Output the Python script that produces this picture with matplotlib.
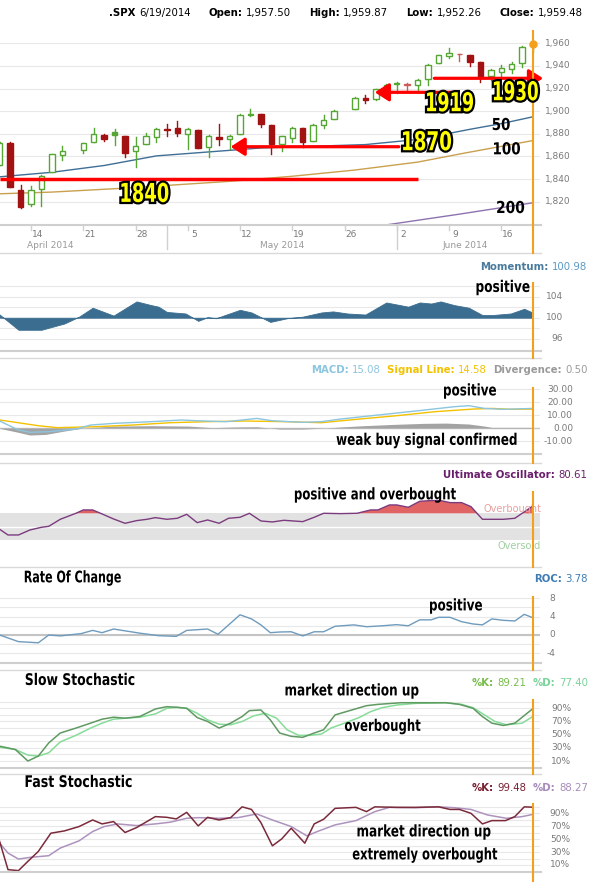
import numpy as np
import matplotlib
matplotlib.use('Agg')
import matplotlib.pyplot as plt
import matplotlib.patheffects as pe
from matplotlib.lines import Line2D
from matplotlib.patches import Rectangle, PathPatch
from matplotlib.offsetbox import TextArea, HPacker, AnnotationBbox
from matplotlib.textpath import TextPath
from matplotlib.font_manager import FontProperties
from matplotlib.transforms import Affine2D

W, H = 590, 882

# ---- daily candles (S&P 500) ----
dates = ['2014-04-09', '2014-04-10', '2014-04-11', '2014-04-14', '2014-04-15', '2014-04-16', '2014-04-17',
         '2014-04-21', '2014-04-22', '2014-04-23', '2014-04-24', '2014-04-25', '2014-04-28', '2014-04-29',
         '2014-04-30', '2014-05-01', '2014-05-02', '2014-05-05', '2014-05-06', '2014-05-07', '2014-05-08',
         '2014-05-09', '2014-05-12', '2014-05-13', '2014-05-14', '2014-05-15', '2014-05-16', '2014-05-19',
         '2014-05-20', '2014-05-21', '2014-05-22', '2014-05-23', '2014-05-27', '2014-05-28', '2014-05-29',
         '2014-05-30', '2014-06-02', '2014-06-03', '2014-06-04', '2014-06-05', '2014-06-06', '2014-06-09',
         '2014-06-10', '2014-06-11', '2014-06-12', '2014-06-13', '2014-06-16', '2014-06-17', '2014-06-18',
         '2014-06-19']
opens = [1852.6, 1872.3, 1830.7, 1818.2, 1831.5, 1846.0, 1861.7, 1865.8, 1872.6, 1879.3, 1882.0, 1877.7,
         1865.0, 1870.8, 1877.1, 1884.4, 1885.3, 1879.5, 1883.7, 1868.5, 1877.4, 1875.3, 1880.0, 1896.8,
         1897.1, 1888.2, 1871.2, 1876.7, 1884.9, 1873.3, 1888.2, 1893.3, 1902.0, 1911.8, 1910.6, 1920.3,
         1923.9, 1923.1, 1923.1, 1928.5, 1942.4, 1949.0, 1950.3, 1949.4, 1943.4, 1930.8, 1934.8, 1937.2,
         1942.7, 1957.5]
highs = [1872.4, 1872.5, 1835.1, 1834.2, 1844.0, 1862.3, 1869.6, 1871.9, 1884.9, 1879.8, 1884.1, 1877.7,
         1877.0, 1880.6, 1885.2, 1888.6, 1891.3, 1885.5, 1883.7, 1878.8, 1889.1, 1878.6, 1897.1, 1902.2,
         1897.1, 1888.2, 1878.3, 1886.0, 1884.9, 1888.8, 1896.3, 1901.3, 1912.3, 1914.5, 1920.0, 1924.0,
         1925.9, 1925.1, 1928.6, 1941.7, 1949.4, 1955.6, 1950.9, 1949.4, 1943.4, 1937.3, 1941.2, 1943.7,
         1957.7, 1959.9]
lows = [1852.4, 1833.0, 1814.4, 1815.8, 1816.3, 1846.0, 1856.7, 1863.2, 1872.6, 1873.9, 1870.2, 1859.7,
        1850.6, 1870.8, 1872.7, 1878.0, 1878.5, 1866.8, 1867.7, 1859.8, 1870.1, 1867.0, 1880.0, 1896.1,
        1885.8, 1862.4, 1864.8, 1872.4, 1868.1, 1873.3, 1885.4, 1893.3, 1902.0, 1907.3, 1909.8, 1915.1,
        1916.0, 1918.8, 1918.6, 1922.9, 1942.4, 1947.2, 1944.6, 1940.1, 1925.8, 1927.7, 1930.9, 1933.6,
        1939.3, 1952.3]
closes = [1872.2, 1833.1, 1815.7, 1830.6, 1843.0, 1862.3, 1864.9, 1871.9, 1879.6, 1875.4, 1878.6, 1863.4,
          1869.4, 1878.3, 1884.0, 1883.7, 1881.1, 1884.7, 1867.7, 1878.2, 1875.6, 1878.5, 1896.7, 1897.5,
          1888.5, 1870.9, 1877.9, 1885.1, 1872.8, 1888.0, 1892.5, 1900.5, 1911.9, 1909.8, 1920.0, 1923.6,
          1925.0, 1924.2, 1927.9, 1940.5, 1949.4, 1951.3, 1950.8, 1943.9, 1930.1, 1936.2, 1937.8, 1942.0,
          1957.0, 1959.5]

# moving averages (weekday index from 14 Apr 2014, value)
ma50_x = [-3, 2, 7, 12, 17, 22, 27, 32, 37, 42, 45, 48]
ma50_v = [1842, 1846, 1852, 1860.5, 1864, 1867.5, 1869, 1870.5, 1875, 1884, 1889, 1895]
ma100_x = [-3, 2, 9, 19, 25, 31, 37, 41.5, 48]
ma100_v = [1827, 1828.5, 1832, 1838, 1842.5, 1848, 1855, 1863, 1874]
ma200_x = [34, 41, 48]
ma200_v = [1799.5, 1809, 1819]

support_levels = [1840, 1870, 1919, 1930]

week_dates = ['2014-04-14', '2014-04-21', '2014-04-28', '2014-05-05', '2014-05-12', '2014-05-19',
              '2014-05-26', '2014-06-02', '2014-06-09', '2014-06-16']
week_labels = ['14', '21', '28', '5', '12', '19', '26', '2', '9', '16']
month_labels = ['April 2014', 'May 2014', 'June 2014']
month_label_x = [1.8, 24.0, 41.5]

# ---- indicators ----
mom_x = [-3.0, -1.2, 1.0, 2.1, 3.2, 4.6, 5.9, 7.9, 10.1, 11.5, 12.2, 13.0, 14.8, 16.0, 16.9, 17.7, 20.0, 21.1,
         22.9, 24.5, 26.0, 27.8, 28.9, 30.3, 32.0, 34.0, 36.1, 37.2, 38.3, 39.2, 40.5, 41.9, 43.2, 44.1, 45.9,
         47.2, 48.0]
mom_v = [100.6, 97.7, 97.7, 98.3, 98.9, 100.2, 101.9, 100.4, 103.1, 102.4, 102.1, 101.1, 100.8, 99.4, 100.1,
         99.9, 101.5, 101.0, 99.2, 99.9, 100.2, 101.0, 101.2, 100.8, 100.6, 102.9, 102.1, 102.9, 102.7, 103.1,
         102.4, 101.9, 100.5, 100.5, 100.8, 101.7, 100.98]

macd_x = [-3.0, -1.2, -0.1, 1.7, 4.3, 5.7, 7.9, 11.5, 14.4, 15.9, 18.7, 21.6, 23.1, 26.0, 27.8, 29.6, 33.2,
          36.8, 40.5, 41.9, 43.4, 45.2, 48.0]
macd_v = [5.4, -1.5, -3.3, -2.8, -0.8, 2.3, 3.6, 4.9, 6.2, 5.6, 4.9, 7.4, 5.6, 4.4, 4.9, 6.9, 10.0, 13.1, 16.4,
          17.2, 15.1, 14.4, 15.08]
sig_x = [-3.0, 0.7, 2.5, 6.1, 9.7, 13.3, 16.9, 20.6, 24.2, 27.8, 31.4, 35.0, 38.7, 42.3, 44.1, 45.9, 48.0]
sig_v = [6.2, 1.8, 0.3, 1.0, 2.3, 4.1, 4.9, 5.4, 4.9, 4.1, 6.9, 9.5, 12.6, 14.6, 15.1, 14.4, 14.58]
div_x = [-3.0, -1.5, -0.1, 1.4, 3.2, 5.0, 7.9, 11.5, 15.1, 17.3, 19.5, 21.6, 23.8, 26.0, 28.2, 29.6, 31.8,
         34.7, 37.6, 39.7, 41.9, 43.4, 44.1, 48.0]
div_v = [-0.3, -2.8, -5.4, -4.9, -2.3, 0.0, 1.5, 1.8, 1.5, 0.3, 0.8, 1.0, -0.8, -0.8, 0.0, 0.8, 1.8, 2.8, 3.6,
         3.8, 3.1, 1.5, 0.5, 0.5]

uo_x = [-3.0, -2.2, -1.2, -0.1, 1.0, 1.7, 2.8, 4.3, 5.0, 5.9, 6.8, 7.9, 9.0, 10.1, 11.1, 11.9, 13.0, 14.0,
        14.9, 15.9, 16.9, 18.0, 18.9, 20.0, 20.9, 22.0, 23.1, 24.2, 26.0, 27.1, 28.0, 29.6, 31.2, 32.5, 33.2,
        34.3, 35.0, 36.1, 37.2, 38.3, 39.2, 40.1, 41.2, 42.1, 43.2, 44.1, 45.2, 46.3, 48.0]
uo_v = [46, 37.5, 37.5, 45, 49, 50.5, 61, 70, 75, 75, 69, 61.5, 55, 59, 61, 63.5, 61, 62.5, 68.5, 56, 60, 55,
        62.5, 64, 70, 58.5, 57, 59.5, 57.5, 64, 70, 69.5, 70, 75, 75, 82.5, 82.5, 79, 88, 89, 89, 86, 86, 80,
        61, 61, 61, 62.5, 80.61]

roc_x = [-3.0, -1.2, 0.7, 1.7, 2.8, 4.8, 5.9, 6.8, 7.9, 9.0, 10.4, 12.2, 13.9, 14.9, 16.9, 17.9, 20.0, 21.1,
         22.0, 22.9, 23.8, 24.9, 26.0, 27.1, 28.0, 29.1, 30.9, 32.1, 33.6, 35.0, 36.1, 37.2, 38.3, 39.0, 40.1,
         41.2, 42.3, 43.2, 44.1, 45.2, 46.3, 47.2, 48.0]
roc_v = [0.0, -1.45, -1.7, 0.0, -0.2, 0.3, 1.0, 0.5, 1.3, 0.9, 0.4, -0.15, -0.3, 1.0, 1.3, 0.15, 4.4, 3.5, 2.2,
         0.5, 0.65, 0.7, -0.2, 0.7, 0.7, 1.9, 2.2, 1.8, 2.0, 2.25, 2.0, 3.3, 3.3, 3.85, 3.85, 2.9, 2.4, 2.2,
         3.5, 3.2, 3.05, 4.5, 3.78]

sk_x = [-3.0, -1.5, -0.3, 0.7, 1.7, 2.8, 4.3, 5.7, 6.8, 7.9, 9.0, 10.4, 11.9, 13.0, 14.0, 14.9, 15.9, 16.9,
        18.0, 19.1, 20.2, 20.9, 22.0, 22.9, 23.8, 24.9, 26.0, 27.1, 28.0, 29.1, 30.7, 32.1, 33.2, 35.4, 36.8,
        38.7, 39.7, 41.0, 42.3, 43.2, 44.1, 45.2, 46.3, 48.0]
sk_v = [32.5, 27.5, 10, 17.5, 37.5, 52.5, 60, 67.5, 73.5, 76.5, 75, 77.5, 89, 92.5, 91.5, 90, 76, 70, 60, 67.5,
        77.5, 86.5, 87.5, 72.5, 52.5, 47.5, 46, 52.5, 57.5, 80, 87.5, 94, 96, 98.5, 98.5, 98.5, 98.5, 96, 90,
        77.5, 67.5, 64, 67.5, 89.21]
sd_x = [-3.0, -1.5, -0.3, 0.7, 1.7, 2.8, 4.3, 5.7, 6.8, 7.9, 9.0, 10.4, 11.9, 13.0, 14.0, 14.9, 15.9, 16.9,
        18.0, 19.1, 20.2, 21.3, 22.4, 23.5, 24.5, 25.6, 26.7, 27.8, 28.7, 30.0, 31.4, 32.5, 33.6, 35.0, 36.8,
        39.7, 41.2, 42.3, 43.4, 44.4, 45.5, 47.0, 48.0]
sd_v = [31, 27.5, 19, 17.5, 22.5, 39, 49, 60, 67.5, 73.5, 75, 76.5, 81.5, 90, 91.5, 90, 82.5, 72.5, 66, 65, 70,
        78.5, 82.5, 75, 57.5, 49, 49, 51, 60, 67.5, 76, 85, 91, 95, 97.5, 98.5, 96, 91, 80, 70, 65, 67.5, 77.4]

fk_x = [-3.0, -2.2, -1.2, -0.3, 0.7, 1.9, 3.2, 4.6, 5.9, 6.8, 7.9, 9.0, 10.1, 11.9, 13.0, 13.9, 14.9, 16.0,
        16.9, 18.0, 19.1, 20.2, 21.1, 22.0, 23.1, 24.0, 24.9, 26.2, 27.1, 28.0, 29.1, 31.1, 32.1, 32.9, 35.0,
        36.8, 39.0, 40.1, 41.0, 42.1, 43.2, 44.1, 45.4, 46.3, 47.2, 48.0]
fk_v = [46.4, 2.8, 1.3, 15.6, 31, 59.2, 62.8, 69.5, 79.7, 73.6, 77.2, 60.3, 67.9, 84.9, 83.8, 81.3, 91.5, 70.5,
        83.8, 79.7, 83.3, 100, 96, 75.6, 39.7, 50.5, 66.9, 43.8, 73.6, 80.8, 97.7, 99.2, 92.6, 100, 99.2, 99.2,
        100, 96, 96, 90, 73.6, 78.7, 78.7, 84.9, 100, 99.48]
fd_x = [-3.0, -2.2, -1.2, -0.1, 1.7, 2.8, 4.6, 5.9, 7.0, 8.3, 10.1, 11.9, 13.3, 14.9, 16.0, 18.0, 19.8, 21.6,
        23.1, 24.9, 26.4, 27.4, 29.1, 31.1, 32.9, 34.3, 36.8, 39.0, 40.5, 42.1, 43.7, 45.5, 47.0, 48.0]
fd_v = [43.8, 28.5, 19.2, 21.8, 24.4, 36.2, 47.4, 61.8, 69.5, 73.6, 71, 73.6, 76.2, 82.3, 83.3, 82.3, 83.3, 89,
        79.7, 69.5, 55.1, 61.8, 72.1, 78.7, 92.6, 99.2, 98.7, 100, 98.7, 96, 87.4, 82.3, 84.9, 88.27]

# ---- styling ----
ORANGE = '#f5a01a'
GRID = '#e8e8e8'
TICK = '#7a7a7a'
GREEN = '#55a632'
RED = '#a31212'
LRED = '#cc5c5c'
XL = (-31 / 10.45, (540 - 31) / 10.45)
X_PLOT = 540
YL_PRICE = (1799.4, 1971.8)
PRICE_TOP, PRICE_BOT = 30, 225
BOLD = FontProperties(family='DejaVu Sans', weight='bold')
NOTE_EM = 16

plt.rcParams['font.family'] = ['DejaVu Sans']
fig = plt.figure(figsize=(W / 100, H / 100), dpi=100)
fig.patch.set_facecolor('white')

day = np.busday_count('2014-04-14', dates)
last = day[-1]


def xpx(d):
    return (d - XL[0]) / (XL[1] - XL[0]) * X_PLOT


def ypx_price(v):
    return PRICE_BOT - (v - YL_PRICE[0]) / (YL_PRICE[1] - YL_PRICE[0]) * (PRICE_BOT - PRICE_TOP)


x_last_px = xpx(last)


def rect(y0, y1):
    return [0, 1 - y1 / H, X_PLOT / W, (y1 - y0) / H]


def fy(y):
    return 1 - y / H


def hline_px(y, color, lw, x0=0, x1=541):
    fig.add_artist(Line2D([x0 / W, x1 / W], [fy(y), fy(y)], color=color, lw=lw, zorder=1))


def vline_px(x, y0, y1, color, lw, z=20):
    fig.add_artist(Line2D([x / W, x / W], [fy(y0), fy(y1)], color=color, lw=lw, zorder=z))


def ctext(x, y, s, width, em=NOTE_EM, color='black', stroke=0, z=30):
    """condensed bold text (Impact-like), centred on pixel (x, y) from top-left"""
    path = TextPath((0, 0), s, size=em, prop=BOLD)
    ext = path.get_extents()
    sx = width / ext.width
    tr = (Affine2D().translate(-(ext.x0 + ext.x1) / 2, -(ext.y0 + ext.y1) / 2)
          .scale(sx, 1).translate(x, H - y))
    patch = PathPatch(path, transform=tr, facecolor=color, edgecolor='none', lw=0, zorder=z)
    if stroke:
        patch.set_path_effects([pe.Stroke(linewidth=stroke, foreground='black'), pe.Normal()])
    fig.add_artist(patch)


def panel(y0, y1, ylim, grid, labels, label_x, bottom=True):
    ax = fig.add_axes(rect(y0, y1))
    ax.set_xlim(XL)
    ax.set_ylim(ylim)
    ax.set_xticks([])
    ax.set_yticks([])
    for s in ax.spines.values():
        s.set_visible(False)
    ax.patch.set_alpha(0)
    for g in grid:
        ax.axhline(g, color=GRID, lw=0.8, zorder=0)
    for v, t in labels:
        ax.text(label_x / X_PLOT, v, t, transform=ax.get_yaxis_transform(), ha='right', va='center',
                fontsize=6.5, color=TICK, clip_on=False)
    if bottom:
        hline_px(y1, '#cfcfcf', 1.5)
    return ax


def header(groups, y, right=587, size=7.3, gsep=4.5, isep=2.5):
    packs = []
    for items in groups:
        boxes = [TextArea(t, textprops=dict(color=c, fontweight=w, fontsize=size)) for t, c, w in items]
        packs.append(HPacker(children=boxes, sep=isep, pad=0, align='baseline'))
    box = HPacker(children=packs, sep=gsep, pad=0, align='baseline')
    ab = AnnotationBbox(box, (right / W, fy(y)), xycoords='figure fraction', box_alignment=(1, 0.5),
                        frameon=False, pad=0)
    fig.add_artist(ab)


# ================= price panel =================
ax = panel(PRICE_TOP, PRICE_BOT, YL_PRICE, range(1820, 1961, 20),
           [(v, f'{v:,}') for v in range(1820, 1961, 20)], 571)

for i in range(len(dates)):
    o, h, l, c = opens[i], highs[i], lows[i], closes[i]
    prev = closes[i - 1] if i else o
    up = c >= prev
    filled = c < o
    col = GREEN if up else (RED if filled else LRED)
    ax.plot([day[i], day[i]], [l, h], color=col, lw=1, zorder=3)
    lo, hi = min(o, c), max(o, c)
    ax.add_patch(Rectangle((day[i] - 0.26, lo), 0.52, max(hi - lo, 0.5),
                           facecolor=col if filled else 'white', edgecolor=col, lw=1, zorder=4))

ax.plot(ma50_x, ma50_v, color='#3f6f96', lw=1, zorder=2)
ax.plot(ma100_x, ma100_v, color='#c9a04f', lw=1, zorder=2)
ax.plot(ma200_x, ma200_v, color='#8e72b0', lw=1, zorder=2)

arrow = dict(arrowstyle='-|>,head_length=0.7,head_width=0.45', color='#ff0000', lw=2.3,
             shrinkA=0, shrinkB=0, mutation_scale=12)
s1840, s1870, s1919, s1930 = support_levels
ax.plot([XL[0], 37.0], [s1840, s1840], color='#ff0000', lw=2.5, solid_capstyle='butt', zorder=6)
ax.annotate('', xy=(19.1, 1868.6), xytext=(35.2, 1868.6), arrowprops=arrow, zorder=6)
ax.annotate('', xy=(32.9, 1916.7), xytext=(40.4, 1916.7), arrowprops=arrow, zorder=6)
ax.annotate('', xy=(49.0, 1929.1), xytext=(38.6, 1929.1), arrowprops=arrow, zorder=6,
            annotation_clip=False)

# yellow level labels (position in data units, drawn condensed)
for lvl, d, v, w in [(s1840, 10.9, 1828.2, 47), (s1870, 37.9, 1873.9, 48),
                     (s1919, 40.1, 1908.4, 46), (s1930, 46.4, 1918.1, 44)]:
    ctext(xpx(d), ypx_price(v), str(lvl), w, em=26, color='#ffff00', stroke=3.2)

for t, d, v, w in [('50', 45.0, 1888.7, 17), ('100', 45.55, 1867.2, 26), ('200', 45.9, 1815.3, 27)]:
    ctext(xpx(d), ypx_price(v), t, w, em=16.5)

ax.axvline(last, color=ORANGE, lw=1.5, zorder=7)
ax.plot(last, closes[-1], 'o', color=ORANGE, ms=5, zorder=10, clip_on=False)

# date axis
wk = np.busday_count('2014-04-14', week_dates)
for d, t in zip(wk, week_labels):
    x = xpx(d)
    vline_px(x, 225, 230, '#d0d0d0', 1, z=1)
    fig.text((x + 6.5) / W, fy(234), t, ha='center', va='center', fontsize=6.5, color=TICK)
month_start = [day[i] for i in range(1, len(dates)) if dates[i][5:7] != dates[i - 1][5:7]]
for d in month_start:
    vline_px(xpx(d), 225, 249, '#d0d0d0', 1, z=1)
for d, t in zip(month_label_x, month_labels):
    fig.text(xpx(d) / W, fy(246), t, ha='center', va='center', fontsize=6.5, color='#999999')

header([[('.SPX', 'black', 'bold'), ('6/19/2014', 'black', 'normal')],
        [('Open:', 'black', 'bold'), ('1,957.50', 'black', 'normal')],
        [('High:', 'black', 'bold'), ('1,959.87', 'black', 'normal')],
        [('Low:', 'black', 'bold'), ('1,952.26', 'black', 'normal')],
        [('Close:', 'black', 'bold'), ('1,959.48', 'black', 'normal')]], 13, right=583, gsep=13)

# separators
for y in [253, 358, 462.7, 566.7, 670, 774]:
    hline_px(y, '#d9d9d9', 1)
vline_px(x_last_px, 225, 253, ORANGE, 1.5)

# ================= momentum =================
ax = panel(282, 351, (93.66, 106.8), range(96, 107, 2), [(96, '96'), (100, '100'), (104, '104')], 563)
ax.fill_between(mom_x, mom_v, 100, color='#3b6d90', lw=0.6, zorder=2)
ax.axvline(last, color=ORANGE, lw=1.5, zorder=7)
vline_px(x_last_px, 351, 358, ORANGE, 1.5)
header([[('Momentum:', '#4a7b9d', 'bold'), ('100.98', '#5a9ac6', 'normal')]], 267)
ctext(503, 287.5, 'positive', 53)

# ================= MACD =================
ax = panel(386.7, 454.3, (-20.2, 31.8), range(-10, 31, 10),
           [(v, f'{v:.2f}') for v in range(-10, 31, 10)], 573)
ax.axhline(0, color='#c8c8c8', lw=1, zorder=1)
ax.fill_between(div_x, div_v, 0, color='#a3a3a3', lw=0, zorder=2)
ax.plot(sig_x, sig_v, color='#f2c200', lw=1, zorder=3)
ax.plot(macd_x, macd_v, color='#8cc5df', lw=1, zorder=4)
ax.axvline(last, color=ORANGE, lw=1.5, zorder=7)
vline_px(x_last_px, 454.3, 462.7, ORANGE, 1.5)
header([[('MACD:', '#8cc5df', 'bold'), ('15.08', '#8cc5df', 'normal')],
        [('Signal Line:', '#f2c200', 'bold'), ('14.58', '#f2c200', 'normal')],
        [('Divergence:', '#9a9a9a', 'bold'), ('0.50', '#9a9a9a', 'normal')]], 370, right=588)
ctext(470, 391, 'positive', 52)
ctext(426.5, 440.5, 'weak buy signal confirmed', 180)

# ================= Ultimate Oscillator =================
ax = panel(491, 562, (-3.0, 103.4), [], [], 0, bottom=False)
ax.axhspan(30, 70, color='#e2e2e2', lw=0, zorder=0)
ax.axhline(50, color='white', lw=1, zorder=1)
ax.fill_between(uo_x, uo_v, 70, where=np.array(uo_v) > 70, interpolate=True, color='#e06464', lw=0, zorder=2)
ax.plot(uo_x, uo_v, color='#7b3b7e', lw=1, zorder=3)
ax.text(541 / X_PLOT, 77, 'Overbought', transform=ax.get_yaxis_transform(), ha='right', va='center',
        fontsize=7, color='#e8a0a0', clip_on=False)
ax.text(541 / X_PLOT, 21, 'Oversold', transform=ax.get_yaxis_transform(), ha='right', va='center',
        fontsize=7, color='#9fd09f', clip_on=False)
ax.axvline(last, color=ORANGE, lw=1.5, zorder=7)
vline_px(x_last_px, 562, 566.7, ORANGE, 1.5)
header([[('Ultimate Oscillator:', '#6a1f6c', 'bold'), ('80.61', '#6a1f6c', 'normal')]], 475)
ctext(375.4, 495, 'positive and overbought', 161)

# ================= Rate of change =================
ax = panel(595.7, 663.3, (-6.17, 8.56), range(-6, 9, 2), [(v, f'{v}') for v in (-4, 0, 4, 8)], 555)
ax.axhline(0, color='#c4c4c4', lw=1.5, zorder=1)
ax.plot(roc_x, roc_v, color='#6f9bbd', lw=1, zorder=3)
ax.axvline(last, color=ORANGE, lw=1.5, zorder=7)
vline_px(x_last_px, 663.3, 670, ORANGE, 1.5)
header([[('ROC:', '#3f7db5', 'bold'), ('3.78', '#3f7db5', 'normal')]], 579, right=588)
ctext(72.8, 578, 'Rate Of Change', 96)
ctext(456, 606, 'positive', 52)

# ================= Slow stochastic =================
ax = panel(699.3, 768, (-0.6, 103.7), range(10, 101, 10), [(v, f'{v}%') for v in (10, 30, 50, 70, 90)], 571)
ax.plot(sd_x, sd_v, color='#86dc98', lw=1.1, zorder=3)
ax.plot(sk_x, sk_v, color='#5f9a62', lw=1.1, zorder=4)
ax.axvline(last, color=ORANGE, lw=1.5, zorder=7)
vline_px(x_last_px, 768, 774, ORANGE, 1.5)
header([[('%K:', '#78bd4a', 'bold'), ('89.21', '#78bd4a', 'normal')],
        [('%D:', '#7ad39a', 'bold'), ('77.40', '#7ad39a', 'normal')]], 683, right=588)
ctext(80, 679, 'Slow Stochastic', 108.6)
ctext(352, 691, 'market direction up', 133)
ctext(382.7, 726.5, 'overbought', 75.6)

# ================= Fast stochastic =================
ax = panel(803.3, 872.3, (-1.3, 105.5), range(10, 101, 10), [(v, f'{v}%') for v in (10, 30, 50, 70, 90)], 570)
ax.plot(fd_x, fd_v, color='#ad93bd', lw=1.1, zorder=3)
ax.plot(fk_x, fk_v, color='#7b2a3b', lw=1.1, zorder=4)
ax.axvline(last, color=ORANGE, lw=1.5, zorder=7)
vline_px(x_last_px, 872.3, 882, ORANGE, 1.5)
header([[('%K:', '#7a1f30', 'bold'), ('99.48', '#7a1f30', 'normal')],
        [('%D:', '#a88bbb', 'bold'), ('88.27', '#a88bbb', 'normal')]], 788, right=588)
ctext(78.6, 781, 'Fast Stochastic', 106)
ctext(424, 832, 'market direction up', 133)
ctext(425, 855, 'extremely overbought', 144.5)

fig.savefig('out.png', dpi=100, facecolor='white')
